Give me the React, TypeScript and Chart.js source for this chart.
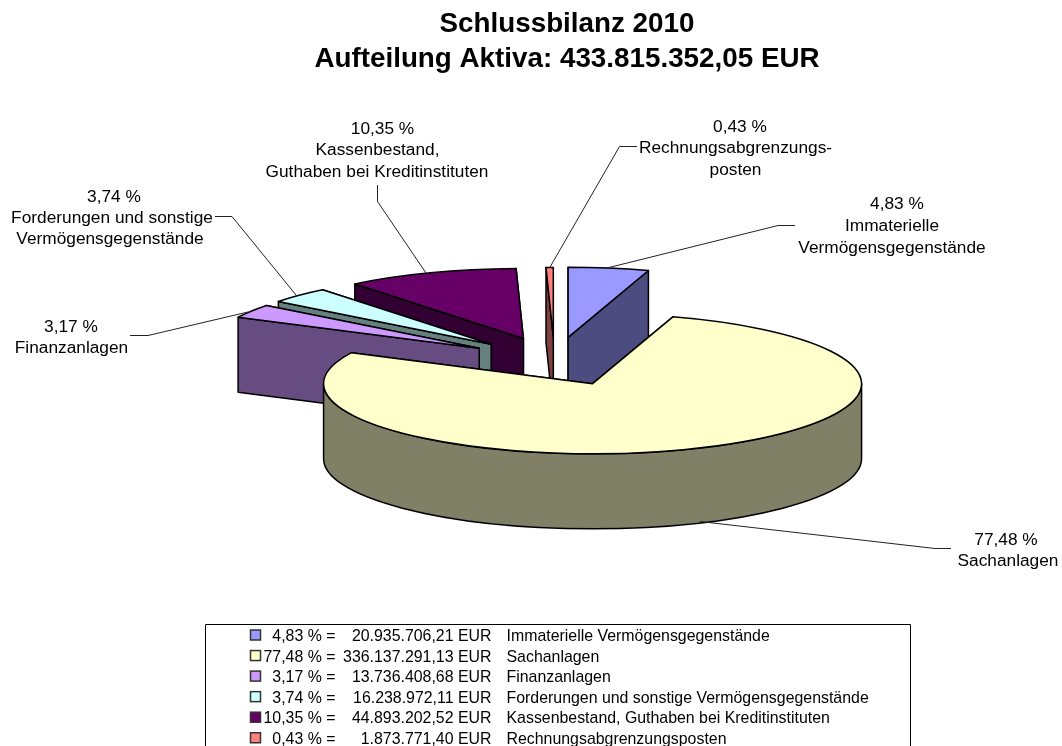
import React, { useEffect, useRef } from "react";
import { Chart, registerables } from "chart.js";

Chart.register(...registerables);

const FONT = '"Liberation Sans", Arial, sans-serif';

const titleLines = ["Schlussbilanz 2010", "Aufteilung Aktiva: 433.815.352,05 EUR"];
const categories = [
  "Immaterielle Vermögensgegenstände",
  "Sachanlagen",
  "Finanzanlagen",
  "Forderungen und sonstige Vermögensgegenstände",
  "Kassenbestand, Guthaben bei Kreditinstituten",
  "Rechnungsabgrenzungsposten",
];
const amounts = [20935706.21, 336137291.13, 13736408.68, 16238972.11, 44893202.52, 1873771.4];
const percentLabels = ["4,83 %", "77,48 %", "3,17 %", "3,74 %", "10,35 %", "0,43 %"];
const amountLabels = [
  "20.935.706,21",
  "336.137.291,13",
  "13.736.408,68",
  "16.238.972,11",
  "44.893.202,52",
  "1.873.771,40",
];
const explode = [0.335, 0.36, 0.33, 0.33, 0.335, 0.33];
const topColors = ["#9999FF", "#FFFFCC", "#CC99FF", "#CCFFFF", "#660066", "#FF8080"];
const wallColors = ["#4C4C80", "#808066", "#664C80", "#668080", "#330033", "#804040"];
const paintOrder = [4, 5, 0, 3, 2, 1];

type Callout = { lines: [string, number, number][]; leader: [number, number][] };
const callouts: Callout[] = [
  {
    lines: [["4,83 %", 897, 203], ["Immaterielle", 892, 225], ["Vermögensgegenstände", 892, 247]],
    leader: [[605, 268.5], [778, 225.5], [795, 225.5]],
  },
  {
    lines: [["77,48 %", 1006, 539], ["Sachanlagen", 1008, 560]],
    leader: [[700, 521.5], [935, 548.5], [951, 548.5]],
  },
  {
    lines: [["3,17 %", 71, 326], ["Finanzanlagen", 71.5, 347]],
    leader: [[248, 312], [148, 335.5], [130, 335.5]],
  },
  {
    lines: [["3,74 %", 114, 196], ["Forderungen und sonstige", 112, 217], ["Vermögensgegenstände", 110, 238]],
    leader: [[296, 295], [232, 216.5], [215, 216.5]],
  },
  {
    lines: [["10,35 %", 382.5, 128], ["Kassenbestand,", 377.5, 149], ["Guthaben bei Kreditinstituten", 377, 171]],
    leader: [[426, 273], [377.5, 201.5], [377.5, 185]],
  },
  {
    lines: [["0,43 %", 740, 126], ["Rechnungsabgrenzungs-", 735.5, 147], ["posten", 735.5, 169]],
    leader: [[549.5, 268], [619.5, 146.5], [637, 146.5]],
  },
];

const CX = 554.5;
const CY = 360.5;
const RX = 269;
const RY = 70;
const DEPTH = 75;

const pie3dPlugin = {
  id: "pie3d",
  beforeDatasetDraw(chart: any) {
    const ctx: CanvasRenderingContext2D = chart.ctx;
    const arcs = chart.getDatasetMeta(0).data;
    ctx.save();
    ctx.lineWidth = 1.5;
    ctx.lineJoin = "round";
    ctx.strokeStyle = "#000";
    const shape = (fill: string) => {
      ctx.fillStyle = fill;
      ctx.fill();
      ctx.stroke();
    };
    for (const i of paintOrder) {
      const el = arcs[i];
      const a0: number = el.startAngle;
      const a1: number = el.endAngle;
      const mid = (a0 + a1) / 2;
      const ax = CX + explode[i] * Math.cos(mid) * RX;
      const ay = CY + explode[i] * Math.sin(mid) * RY;
      const corner = (a: number): [number, number] => [ax + Math.cos(a) * RX, ay + Math.sin(a) * RY];
      const faces = [a0, a1].sort((p, q) => corner(p)[1] - corner(q)[1]);
      for (const a of faces) {
        const [x, y] = corner(a);
        ctx.beginPath();
        ctx.moveTo(ax, ay);
        ctx.lineTo(x, y);
        ctx.lineTo(x, y + DEPTH);
        ctx.lineTo(ax, ay + DEPTH);
        ctx.closePath();
        shape(wallColors[i]);
      }
      const w0 = Math.max(a0, 0);
      const w1 = Math.min(a1, Math.PI);
      if (w1 > w0) {
        ctx.beginPath();
        ctx.ellipse(ax, ay, RX, RY, 0, w0, w1);
        ctx.ellipse(ax, ay + DEPTH, RX, RY, 0, w1, w0, true);
        ctx.closePath();
        shape(wallColors[i]);
      }
      ctx.beginPath();
      ctx.moveTo(ax, ay);
      ctx.ellipse(ax, ay, RX, RY, 0, a0, a1);
      ctx.closePath();
      shape(topColors[i]);
    }
    ctx.restore();
    return false;
  },
  afterDraw(chart: any) {
    const ctx: CanvasRenderingContext2D = chart.ctx;
    ctx.save();
    ctx.fillStyle = "#000";
    ctx.textBaseline = "alphabetic";

    ctx.textAlign = "center";
    ctx.font = `bold 27.8px ${FONT}`;
    ctx.fillText(titleLines[0], 567, 32);
    ctx.fillText(titleLines[1], 567, 67);

    ctx.strokeStyle = "#222";
    ctx.lineWidth = 1;
    ctx.font = `17.3px ${FONT}`;
    for (const c of callouts) {
      ctx.beginPath();
      c.leader.forEach(([x, y], k) => (k ? ctx.lineTo(x, y) : ctx.moveTo(x, y)));
      ctx.stroke();
      for (const [t, x, y] of c.lines) ctx.fillText(t, x, y + 6);
    }

    ctx.strokeStyle = "#000";
    ctx.lineWidth = 1;
    ctx.beginPath();
    ctx.moveTo(205.5, 746);
    ctx.lineTo(205.5, 624.5);
    ctx.lineTo(910.5, 624.5);
    ctx.lineTo(910.5, 746);
    ctx.stroke();

    ctx.font = `15.9px ${FONT}`;
    categories.forEach((name, i) => {
      const yc = 635.5 + i * 20.55;
      ctx.fillStyle = topColors[i];
      ctx.strokeStyle = "#333";
      ctx.lineWidth = 1.5;
      ctx.fillRect(250.5, yc - 5.5, 10, 10);
      ctx.strokeRect(250.5, yc - 5.5, 10, 10);
      ctx.fillStyle = "#000";
      ctx.textAlign = "right";
      ctx.fillText(`${percentLabels[i]} =`, 335.5, yc + 5.5);
      ctx.fillText(`${amountLabels[i]} EUR`, 491.5, yc + 5.5);
      ctx.textAlign = "left";
      ctx.fillText(name, 506.5, yc + 5.5);
    });
    ctx.restore();
  },
};

export default function App() {
  const ref = useRef<HTMLCanvasElement>(null);
  useEffect(() => {
    document.body.style.margin = "0";
    document.body.style.background = "#fff";
    const chart = new Chart(ref.current as HTMLCanvasElement, {
      type: "pie",
      data: {
        labels: categories,
        datasets: [{ data: amounts, backgroundColor: topColors, borderWidth: 0 }],
      },
      options: {
        animation: false,
        responsive: false,
        rotation: 0,
        plugins: { legend: { display: false }, tooltip: { enabled: false }, title: { display: false } },
      },
      plugins: [pie3dPlugin as any],
    });
    return () => chart.destroy();
  }, []);
  return (
    <div style={{ position: "fixed", left: 0, top: 0, width: 1062, height: 746, overflow: "hidden", background: "#fff" }}>
      <canvas ref={ref} width={1062} height={746} style={{ display: "block" }} />
    </div>
  );
}
